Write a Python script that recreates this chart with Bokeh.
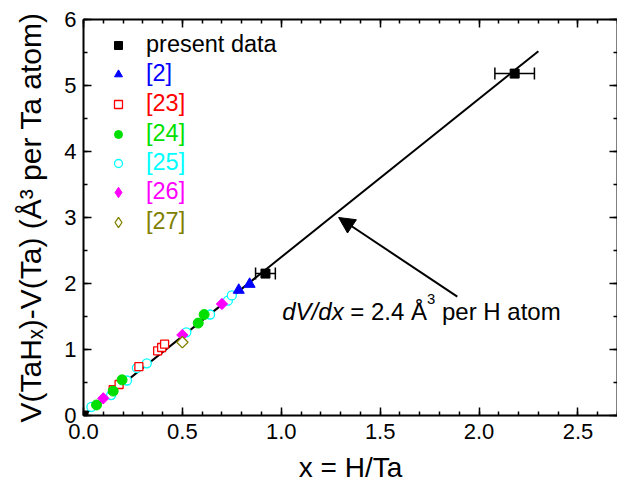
import math
from bokeh.plotting import figure
from bokeh.models import (ColumnDataSource, Whisker, TeeHead, Arrow, NormalHead, Label,
                          Legend, LegendItem, LinearAxis, FixedTicker, PrintfTickFormatter, Range1d)
from bokeh.embed import file_html
from bokeh.resources import INLINE

# ---------------- data ----------------
present_x = [0.0, 0.92, 2.18]
present_y = [0.0, 2.15, 5.18]
present_xerr = [0.0, 0.05, 0.10]

ref2_x = [0.785, 0.84]
ref2_y = [1.90, 1.99]

ref23_x = [0.15, 0.18, 0.28, 0.375, 0.395, 0.41]
ref23_y = [0.39, 0.47, 0.74, 0.98, 1.03, 1.08]

ref24_x = [0.066, 0.15, 0.195, 0.58, 0.61]
ref24_y = [0.16, 0.37, 0.54, 1.40, 1.53]

ref25_x = [0.04, 0.14, 0.22, 0.27, 0.32, 0.52, 0.64, 0.73, 0.75]
ref25_y = [0.13, 0.31, 0.53, 0.72, 0.79, 1.26, 1.53, 1.74, 1.82]

ref26_x = [0.10, 0.50, 0.70]
ref26_y = [0.26, 1.22, 1.69]

ref27_x = [0.50]
ref27_y = [1.11]

fit_x = [0.0, 2.30]
fit_slope = 2.4

x_ticks = [0.0, 0.5, 1.0, 1.5, 2.0, 2.5]
y_ticks = [0, 1, 2, 3, 4, 5, 6]

legend_labels = ["present data", "[2]", "[23]", "[24]", "[25]", "[26]", "[27]"]

x_title = "x = H/Ta"
y_title = "V(TaHₓ)-V(Ta) (Å³ per Ta atom)"

# ---------------- styles ----------------
FONT = "Liberation Sans"
BLACK = "#000000"
BLUE = "#0000ff"
RED = "#ff0000"
GREEN = "#00e000"
CYAN = "#00ffff"
MAGENTA = "#ff00ff"
OLIVE = "#808000"

p = figure(width=617, height=485, x_range=Range1d(0, 2.7), y_range=Range1d(0, 6),
           output_backend="svg", toolbar_location=None,
           min_border_left=83, min_border_right=0, min_border_top=19, min_border_bottom=70)
p.grid.visible = False
p.outline_line_color = None
p.background_fill_color = "white"
p.border_fill_color = "white"

x_minor = [round(i * 0.1, 2) for i in range(0, 28)]
y_minor = [i * 0.5 for i in range(0, 13)]

bottom_ax = p.below[0]
left_ax = p.left[0]
bottom_ax.ticker = FixedTicker(ticks=x_ticks, minor_ticks=x_minor)
left_ax.ticker = FixedTicker(ticks=y_ticks, minor_ticks=y_minor)
bottom_ax.formatter = PrintfTickFormatter(format="%.1f")
left_ax.formatter = PrintfTickFormatter(format="%d")

top_ax = LinearAxis(ticker=FixedTicker(ticks=x_ticks, minor_ticks=x_minor))
right_ax = LinearAxis(ticker=FixedTicker(ticks=y_ticks, minor_ticks=y_minor))
p.add_layout(top_ax, "above")
p.add_layout(right_ax, "right")

for ax in [bottom_ax, left_ax, top_ax, right_ax]:
    ax.axis_line_color = BLACK
    ax.axis_line_width = 2
    ax.major_tick_line_color = BLACK
    ax.minor_tick_line_color = BLACK
    ax.major_tick_line_width = 1.5
    ax.minor_tick_line_width = 1.5
    ax.major_tick_in = 8
    ax.major_tick_out = 0
    ax.minor_tick_in = 4
    ax.minor_tick_out = 0
    ax.major_label_text_font = FONT
    ax.major_label_text_font_size = "22px"
    ax.major_label_text_color = BLACK
    ax.major_label_standoff = 7

for ax in [top_ax, right_ax]:
    ax.major_label_text_font_size = "0px"
    ax.major_label_standoff = 0
    ax.major_label_text_alpha = 0
    ax.axis_label = None

bottom_ax.major_label_standoff = 8
bottom_ax.axis_label = x_title
left_ax.axis_label = y_title
for ax in [bottom_ax, left_ax]:
    ax.axis_label_text_font = FONT
    ax.axis_label_text_font_style = "normal"
    ax.axis_label_text_color = BLACK
bottom_ax.axis_label_text_font_size = "28px"
bottom_ax.axis_label_standoff = 10
left_ax.axis_label_text_font_size = "30px"
left_ax.axis_label_standoff = 14

# ---------------- fit line ----------------
p.line(fit_x, [fit_slope * v for v in fit_x], line_color=BLACK, line_width=2)

# ---------------- data series ----------------
r25 = p.scatter(ref25_x, ref25_y, marker="circle", size=9, line_color=CYAN, line_width=1.3,
                fill_color="white")
r23 = p.scatter(ref23_x, ref23_y, marker="square", size=8, line_color=RED, line_width=1.3,
                fill_color="white")
r24 = p.scatter(ref24_x, ref24_y, marker="circle", size=10, line_color=GREEN, fill_color=GREEN)
r2 = p.scatter(ref2_x, ref2_y, marker="triangle", size=11, line_color=BLUE, fill_color=BLUE)

# narrow diamonds (used for the legend swatch; hidden under the square-diamonds below)
k26 = p.scatter(ref26_x, ref26_y, marker="diamond", size=10, line_color=MAGENTA, fill_color=MAGENTA)
k27 = p.scatter(ref27_x, ref27_y, marker="diamond", size=10, line_color=OLIVE, line_width=1.3,
                fill_color="white")
r26 = p.scatter(ref26_x, ref26_y, marker="square", angle=math.pi / 4, size=8,
                line_color=MAGENTA, fill_color=MAGENTA)
r27 = p.scatter(ref27_x, ref27_y, marker="square", angle=math.pi / 4, size=8, line_color=OLIVE,
                line_width=1.3, fill_color="white")

err_idx = [i for i, e in enumerate(present_xerr) if e > 0]
err_src = ColumnDataSource(data=dict(
    base=[present_y[i] for i in err_idx],
    lower=[present_x[i] - present_xerr[i] for i in err_idx],
    upper=[present_x[i] + present_xerr[i] for i in err_idx]))
p.add_layout(Whisker(source=err_src, base="base", lower="lower", upper="upper", dimension="width",
                     line_color=BLACK, line_width=1.5,
                     upper_head=TeeHead(size=12, line_color=BLACK, line_width=1.5),
                     lower_head=TeeHead(size=12, line_color=BLACK, line_width=1.5)))
r0 = p.scatter(present_x, present_y, marker="square", size=9, line_color=BLACK, fill_color=BLACK)

# ---------------- legend: one box per entry so each label keeps its colour ----------------
series = [(r0, BLACK, 20), (r2, BLUE, 20), (r23, RED, 20), (r24, GREEN, 20), (r25, CYAN, 20),
          (k26, MAGENTA, 26), (k27, OLIVE, 26)]
first_row_bottom = 357   # px above the frame bottom
row_step = 29.5
marker_center_x = 35     # px right of the frame's left edge
text_start_x = 63
for i, ((rend, col, gs), lab) in enumerate(zip(series, legend_labels)):
    left = marker_center_x - gs // 2
    leg = Legend(items=[LegendItem(label=lab, renderers=[rend])],
                 location=(int(left), int(round(first_row_bottom - i * row_step))),
                 border_line_color=None, background_fill_alpha=0,
                 padding=0, margin=0, spacing=0,
                 glyph_width=gs, glyph_height=gs, label_height=20,
                 label_standoff=int(text_start_x - left - gs),
                 label_text_font=FONT, label_text_font_size="23.5px",
                 label_text_color=col, label_text_baseline="middle")
    p.add_layout(leg)

# ---------------- rich-text annotation inside the frame ----------------
AW = {' ': 278, '(': 333, ')': 333, '-': 333, '/': 278, '=': 584, '.': 278,
      '0': 556, '1': 556, '2': 556, '3': 556, '4': 556, '5': 556, '6': 556, '7': 556, '8': 556, '9': 556,
      'A': 667, 'Å': 667, 'H': 722, 'T': 611, 'V': 667,
      'a': 556, 'd': 556, 'e': 556, 'm': 833, 'o': 556, 'p': 556, 'r': 333, 't': 278, 'x': 500}


def tw(s, size):
    return sum(AW.get(c, 556) for c in s) * size / 1000.0


def rich(pieces, x, y, size):
    """pieces: (text, italic, scale, rise_em); spaces at piece edges become offsets."""
    cum = 0.0
    for text, italic, scale, rise in pieces:
        fs = size * scale
        lead = len(text) - len(text.lstrip(" "))
        trail = len(text) - len(text.rstrip(" "))
        core = text.strip(" ")
        cum += tw(" " * lead, fs)
        p.add_layout(Label(x=x, y=y, x_offset=cum, y_offset=rise * size, text=core,
                           text_font=FONT, text_font_size=f"{fs:.1f}px",
                           text_font_style="italic" if italic else "normal",
                           text_color=BLACK, text_align="left", text_baseline="alphabetic"))
        cum += tw(core, fs) + tw(" " * trail, fs)


rich([("dV/dx", True, 1, 0), (" = 2.4 Å", False, 1, 0), ("3", False, 0.62, 0.5),
      (" per H atom", False, 1, 0)], 1.005, 1.58, 24)

p.add_layout(Arrow(end=NormalHead(size=16, fill_color=BLACK, line_color=BLACK),
                   x_start=1.89, y_start=1.80, x_end=1.29, y_end=3.0,
                   line_color=BLACK, line_width=2))

open("out.html", "w").write(file_html(p, INLINE))
